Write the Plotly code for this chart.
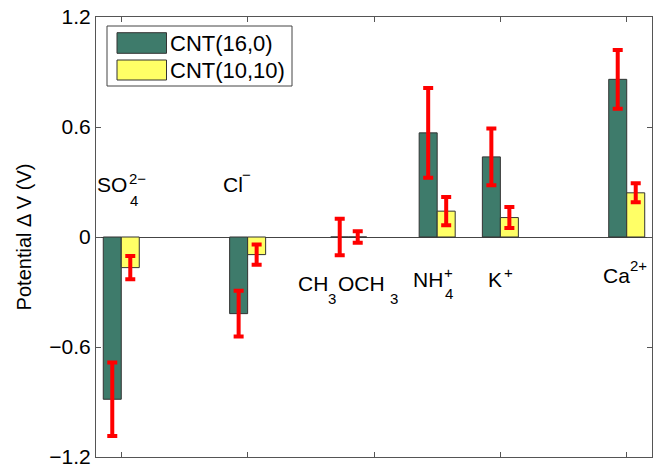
import plotly.graph_objects as go

# ---- data ----
species = ["SO4", "Cl", "CH3OCH3", "NH4", "K", "Ca"]
positions = [1, 3, 4.6, 6, 7, 9]
cnt16_0 = [-0.885, -0.418, 0.0, 0.568, 0.437, 0.860]
cnt16_0_err = [0.20, 0.125, 0.10, 0.245, 0.155, 0.16]
cnt10_10 = [-0.167, -0.096, 0.0, 0.141, 0.106, 0.241]
cnt10_10_err = [0.064, 0.055, 0.032, 0.077, 0.057, 0.052]
series_names = ["CNT(16,0)", "CNT(10,10)"]
y_ticks = [-1.2, -0.6, 0, 0.6, 1.2]
y_ticklabels = ["\u22121.2", "\u22120.6", "0", "0.6", "1.2"]

GREEN = "#3e7b6b"
YELLOW = "#ffff66"
EDGE = "#333333"
RED = "#ff0000"
FONT = "Liberation Sans, Arial, Helvetica, sans-serif"
BW = 0.285

# plot-area geometry (pixels)
L0, R0, T0, B0 = 96.0, 652.0, 17.0, 457.0
XR = [0.6, 9.4]
YR = [-1.2, 1.2]

fig = go.Figure()
fig.add_trace(go.Bar(
    x=positions, y=cnt16_0, width=BW, offset=-BW, name=series_names[0],
    marker=dict(color=GREEN, line=dict(color=EDGE, width=1)),
    error_y=dict(type="data", array=cnt16_0_err, color=RED, thickness=4, width=5),
    showlegend=False))
fig.add_trace(go.Bar(
    x=positions, y=cnt10_10, width=BW, offset=0, name=series_names[1],
    marker=dict(color=YELLOW, line=dict(color=EDGE, width=1)),
    error_y=dict(type="data", array=cnt10_10_err, color=RED, thickness=4, width=5),
    showlegend=False))

def px_x(p):
    return (p - L0) / (R0 - L0)
def px_y(p):
    return 1 - (p - T0) / (B0 - T0)

# ---- species labels (pieces: text, left-edge px, centre-y px, size) ----
M, S = 21, 15
label_pieces = [
    [("SO", 95.5, 184, M), ("4", 129, 200, S), ("2\u2212", 128, 178, S)],
    [("Cl", 221.5, 184, M), ("\u2212", 241, 174, S)],
    [("CH", 297, 283, M), ("3", 327, 298, S), ("OCH", 336.5, 283, M), ("3", 389, 298, S)],
    [("NH", 412, 279.3, M), ("+", 443, 272, S), ("4", 444, 293, S)],
    [("K", 487, 279.3, M), ("+", 503, 272, S)],
    [("Ca", 602, 275.8, M), ("2+", 628.5, 265, S)],
]
annotations = []
for pieces in label_pieces:
    for txt, lx, cy, sz in pieces:
        annotations.append(dict(
            x=px_x(lx), y=px_y(cy), xref="paper", yref="paper",
            text=txt, showarrow=False, xanchor="left", yanchor="middle",
            borderpad=0, font=dict(family=FONT, size=sz, color="black")))

# ---- custom legend ----
shapes = [
    dict(type="rect", xref="paper", yref="paper", x0=px_x(107), x1=px_x(292),
         y0=px_y(86), y1=px_y(26), line=dict(color="#444", width=1), fillcolor="white", layer="above"),
    dict(type="rect", xref="paper", yref="paper", x0=px_x(117), x1=px_x(166.5),
         y0=px_y(53.3), y1=px_y(32.7), line=dict(color=EDGE, width=1), fillcolor=GREEN, layer="above"),
    dict(type="rect", xref="paper", yref="paper", x0=px_x(117), x1=px_x(166.5),
         y0=px_y(80), y1=px_y(60), line=dict(color=EDGE, width=1), fillcolor=YELLOW, layer="above"),
]
for name, cy in zip(series_names, [43, 70]):
    annotations.append(dict(
        x=px_x(168), y=px_y(cy), xref="paper", yref="paper", text=name,
        showarrow=False, xanchor="left", yanchor="middle",
        font=dict(family=FONT, size=22, color="black")))

axis_common = dict(showline=True, linecolor="#555", linewidth=1, mirror="ticks",
                   ticks="inside", ticklen=5, tickcolor="#555", showgrid=False)

fig.update_layout(
    width=663, height=466,
    margin=dict(l=L0, r=663 - R0, t=T0, b=466 - B0, autoexpand=False),
    paper_bgcolor="white", plot_bgcolor="white",
    barmode="overlay",
    font=dict(family=FONT, size=21, color="black"),
    xaxis=dict(range=XR, tickvals=[1, 3, 5, 7, 9], ticktext=[""] * 5,
               zeroline=False, **axis_common),
    yaxis=dict(range=YR, tickvals=y_ticks, ticktext=y_ticklabels,
               zeroline=True, zerolinecolor="#444", zerolinewidth=1,
               ticklabeloverflow="allow",
               title=dict(text="Potential \u0394 V (V)", font=dict(size=20), standoff=12),
               tickfont=dict(size=21), **axis_common),
    annotations=annotations,
    shapes=shapes,
)

fig.write_html("out.html", config={"displayModeBar": False},
               post_script="document.body.style.margin='0';document.body.style.overflow='hidden';")
